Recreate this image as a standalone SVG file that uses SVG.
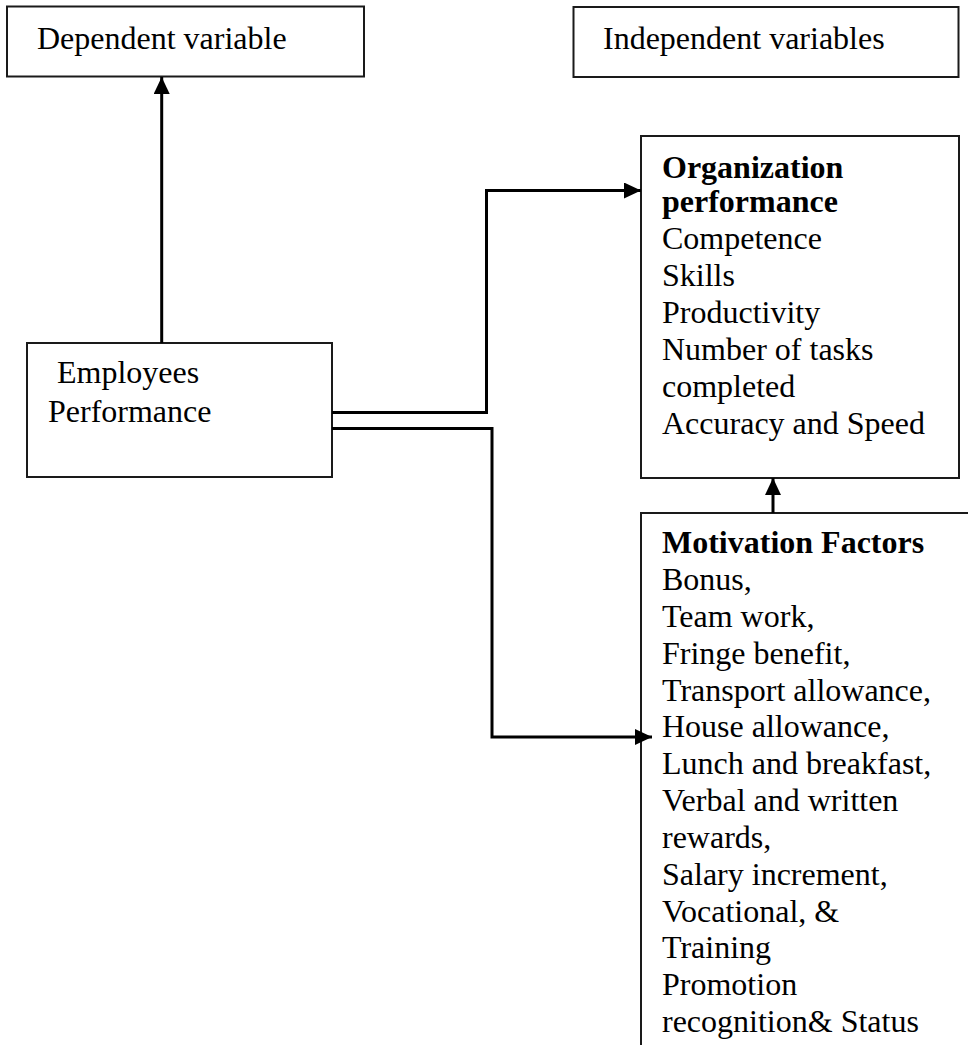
<svg xmlns="http://www.w3.org/2000/svg" width="968" height="1045" viewBox="0 0 968 1045">
<style>
.box{fill:#fff;stroke:#1a1a1a;stroke-width:2}
.t{font-family:"Liberation Serif","Times New Roman",serif;font-size:32px;fill:#000}
.b{font-weight:bold}
.conn{fill:none;stroke:#000;stroke-width:3}
</style>
<defs>
<marker id="ah" markerUnits="userSpaceOnUse" markerWidth="17" markerHeight="16" viewBox="0 0 17 16" refX="17" refY="8" orient="auto">
<path d="M0,0 L17,8 L0,16 Z" fill="#000"/>
</marker>
</defs>
<rect width="968" height="1045" fill="#fff"/>
<g id="dependent">
<rect class="box" x="7" y="6.5" width="357" height="70"/>
<text class="t" x="37" y="49">Dependent variable</text>
</g>
<g id="independent">
<rect class="box" x="573.5" y="7" width="385" height="70"/>
<text class="t" x="603" y="49">Independent variables</text>
</g>
<g id="employees">
<rect class="box" x="27" y="343" width="305" height="134"/>
<text class="t" x="57" y="383">Employees</text>
<text class="t" x="48" y="422">Performance</text>
</g>
<g id="organization">
<rect class="box" x="641" y="136" width="318" height="342"/>
<text class="t" x="662"><tspan class="b" x="662" y="177.5">Organization</tspan><tspan class="b" x="662" y="212">performance</tspan><tspan x="662" y="249">Competence</tspan><tspan x="662" y="286">Skills</tspan><tspan x="662" y="323">Productivity</tspan><tspan x="662" y="360">Number of tasks</tspan><tspan x="662" y="397">completed</tspan><tspan x="662" y="433.5">Accuracy and Speed</tspan></text>
</g>
<g id="motivation">
<rect class="box" x="641" y="513" width="400" height="600"/>
<text class="t" x="662"><tspan class="b" x="662" y="553">Motivation Factors</tspan><tspan x="662" y="590">Bonus,</tspan><tspan x="662" y="627">Team work,</tspan><tspan x="662" y="663.5">Fringe benefit,</tspan><tspan x="662" y="700.5">Transport allowance,</tspan><tspan x="662" y="737">House allowance,</tspan><tspan x="662" y="774">Lunch and breakfast,</tspan><tspan x="662" y="811">Verbal and written</tspan><tspan x="662" y="847.5">rewards,</tspan><tspan x="662" y="884.5">Salary increment,</tspan><tspan x="662" y="921.5">Vocational, &amp;</tspan><tspan x="662" y="958">Training</tspan><tspan x="662" y="995">Promotion</tspan><tspan x="662" y="1032">recognition&amp; Status</tspan></text>
</g>
<g id="connectors">
<path class="conn" d="M161.7,343 V77" marker-end="url(#ah)"/>
<path class="conn" d="M332,412.5 H486.5 V190.5 H641" marker-end="url(#ah)"/>
<path class="conn" d="M332,428.5 H492 V737 H652" marker-end="url(#ah)"/>
<path class="conn" d="M773,513 V478" marker-end="url(#ah)"/>
</g>
</svg>
